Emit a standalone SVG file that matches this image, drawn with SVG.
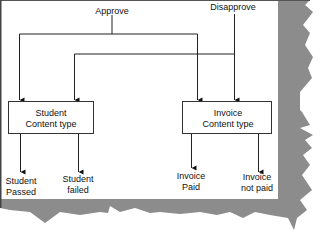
<svg xmlns="http://www.w3.org/2000/svg" width="320" height="233" viewBox="0 0 320 233">
<style>
.t{font-family:"Liberation Sans",Arial,sans-serif;font-size:9px;fill:#111;text-anchor:middle}
.c{stroke:#222;stroke-width:1;fill:none}
.box{fill:#fff;stroke:#333;stroke-width:1}
</style>
<defs>
<marker id="ah" viewBox="0 0 6 6" refX="3" refY="6" markerWidth="6" markerHeight="6" markerUnits="userSpaceOnUse" orient="auto-start-reverse">
<path d="M0.5,1 L5.5,1 L3,6 Z" fill="#111"/>
</marker>
</defs>
<rect width="320" height="233" fill="#fff"/>
<g id="shadow">
<path d="M278,0 L310,0 L305,5 L313,12 L303,25 L310,33 L305,45 L313,57 L308,68 L312,78 L300,92 L300,110 L302,112 L310,125 L300,128 L313,135 L305,140 L312,148 L303,155 L310,165 L302,175 L312,190 L300,200 L307,210 L297,218 L294,230 L288,218 L270,215 L255,212 L243,218 L230,212 L217,215 L200,212 L180,214 L160,212 L150,213 L135,208 L120,212 L110,206 L108,213 L100,212 L80,215 L60,212 L45,223 L30,212 L10,210 L0,208 L0,199 L278,199 Z" fill="#8c8c8c"/>
</g>
<rect x="0" y="0" width="278" height="199" fill="#fff"/>
<line x1="0" y1="0.5" x2="310" y2="0.5" stroke="#555"/>
<line x1="0.75" y1="0" x2="0.75" y2="208" stroke="#444" stroke-width="1.5"/>
<g id="connectors">
<polyline class="c" points="112,15 112,34"/>
<polyline class="c" points="19.5,100 19.5,34 197.5,34 197.5,100" marker-start="url(#ah)" marker-end="url(#ah)"/>
<polyline class="c" points="234.5,14 234.5,100" stroke="#777" marker-end="url(#ah)"/>
<polyline class="c" points="74.5,100 74.5,54 234.5,54" marker-start="url(#ah)"/>
<line class="c" x1="20.5" y1="134" x2="20.5" y2="172" marker-end="url(#ah)"/>
<line class="c" x1="78.5" y1="134" x2="78.5" y2="172" marker-end="url(#ah)"/>
<line class="c" x1="191.5" y1="134" x2="191.5" y2="168" marker-end="url(#ah)"/>
<line class="c" x1="258.5" y1="134" x2="258.5" y2="172" marker-end="url(#ah)"/>
</g>
<g id="approve"><text class="t" x="112" y="14">Approve</text></g>
<g id="disapprove"><text class="t" x="233" y="10">Disapprove</text></g>
<g id="student-ct">
<rect class="box" x="8.5" y="101.5" width="85" height="32"/>
<text class="t" x="51" y="116">Student</text>
<text class="t" x="51" y="127">Content type</text>
</g>
<g id="invoice-ct">
<rect class="box" x="182.5" y="101.5" width="89" height="32"/>
<text class="t" x="228" y="116">Invoice</text>
<text class="t" x="228" y="127">Content type</text>
</g>
<g id="student-passed">
<text class="t" x="21" y="184">Student</text>
<text class="t" x="21" y="195">Passed</text>
</g>
<g id="student-failed">
<text class="t" x="78" y="182">Student</text>
<text class="t" x="78" y="193">failed</text>
</g>
<g id="invoice-paid">
<text class="t" x="191" y="179">Invoice</text>
<text class="t" x="191" y="190">Paid</text>
</g>
<g id="invoice-not-paid">
<text class="t" x="257" y="180">Invoice</text>
<text class="t" x="257" y="191">not paid</text>
</g>
</svg>
